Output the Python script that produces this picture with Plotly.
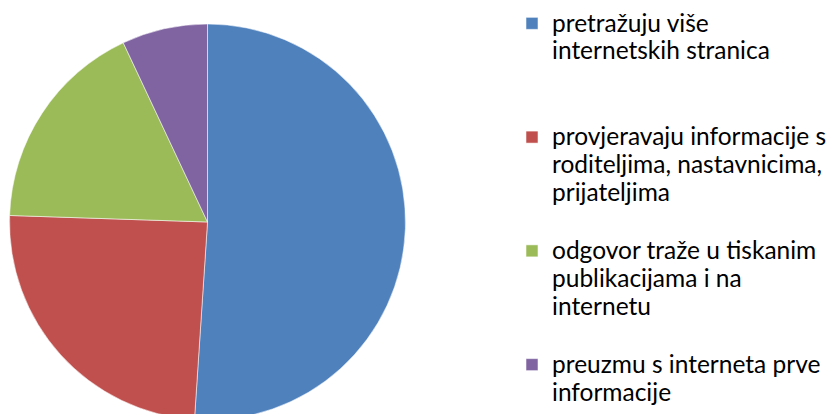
import plotly.graph_objects as go

label_lines = [
    ["pretražuju više", "internetskih stranica"],
    ["provjeravaju informacije s", "roditeljima, nastavnicima,", "prijateljima"],
    ["odgovor traže u tiskanim", "publikacijama i na", "internetu"],
    ["preuzmu s interneta prve", "informacije"],
]
values = [73, 35, 25, 10]
colors = ["#4F81BD", "#C0504D", "#9BBB59", "#8064A2"]

# blank padding lines emulate the evenly distributed legend slots of the original
pad_lines = [2, 1, 1, 0]
labels = []
for lines, pad in zip(label_lines, pad_lines):
    txt = "<br>".join('<span style="font-size:24.5px">%s</span>' % s for s in lines)
    txt += "<br>\u00a0" * pad
    labels.append(txt)

W, H = 835, 414
# page body has an 8px offset; positions below are in figure (paper) pixels
cx, cy, r = 199.5, 214.0, 198.0

fig = go.Figure(
    go.Pie(
        labels=labels,
        values=values,
        sort=False,
        direction="clockwise",
        rotation=0,
        textinfo="none",
        hoverinfo="value+percent",
        marker=dict(colors=colors, line=dict(color="rgba(255,255,255,0.7)", width=0.75)),
        domain=dict(
            x=[(cx - r) / W, (cx + r) / W],
            y=[(H - cy - r) / H, (H - cy + r) / H],
        ),
    )
)

fig.update_layout(
    width=W,
    height=H,
    margin=dict(l=0, r=0, t=0, b=0, autoexpand=False),
    paper_bgcolor="white",
    plot_bgcolor="white",
    showlegend=True,
    legend=dict(
        x=504 / W,
        y=1 + 5 / H,
        xanchor="left",
        yanchor="top",
        valign="top",
        maxheight=500,
        font=dict(family="Lato, Carlito, Calibri, sans-serif", size=21.3, color="#000000"),
        bgcolor="rgba(0,0,0,0)",
        tracegroupgap=0,
    ),
)

fig.write_html("out.html")
